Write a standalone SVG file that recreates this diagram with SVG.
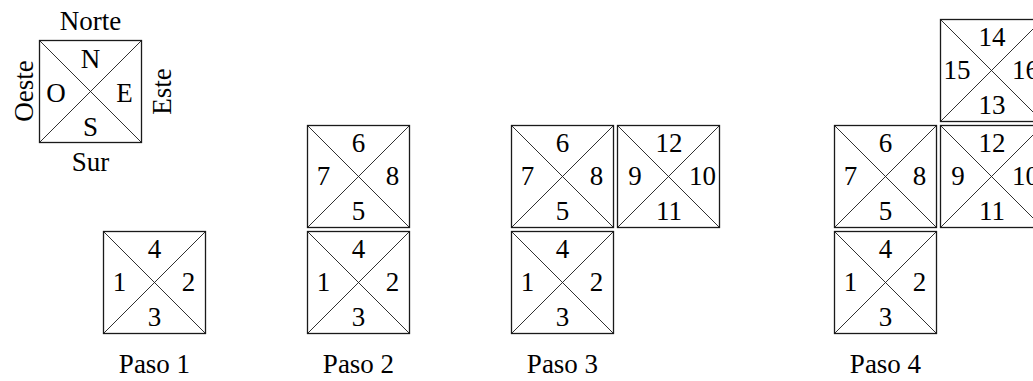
<svg xmlns="http://www.w3.org/2000/svg" xmlns:xlink="http://www.w3.org/1999/xlink" width="1033" height="381" viewBox="0 0 1033 381">
<style>
text{font-family:"Liberation Serif","Times New Roman",serif;font-size:27px;fill:#000;text-anchor:middle}
.frame{fill:none;stroke:#1a1a1a;stroke-width:1.3}
.diag{stroke:#1a1a1a;stroke-width:0.9}
</style>
<defs>
<g id="sq">
<rect class="frame" x="0" y="0" width="102" height="102"/>
<line class="diag" x1="0" y1="0" x2="102" y2="102"/>
<line class="diag" x1="102" y1="0" x2="0" y2="102"/>
</g>
</defs>
<rect width="1033" height="381" fill="#fff"/>

<g id="compass" transform="translate(39.5,40.5)">
<use xlink:href="#sq"/>
<text x="51" y="27.5">N</text>
<text x="16.5" y="61">O</text>
<text x="85" y="61">E</text>
<text x="51" y="95.5">S</text>
<text x="51" y="-10.5">Norte</text>
<text x="51" y="130.5">Sur</text>
<text transform="translate(-6.5,50.5) rotate(-90)">Oeste</text>
<text transform="translate(131.5,51) rotate(-90)">Este</text>
</g>

<g id="paso1">
<g id="p1-sq1" transform="translate(103.5,231.5)">
<use xlink:href="#sq"/>
<text x="51" y="26">4</text><text x="16" y="59">1</text><text x="85" y="59">2</text><text x="51" y="94">3</text>
</g>
<text x="154.5" y="373">Paso 1</text>
</g>

<g id="paso2">
<g id="p2-sq1" transform="translate(307.5,231.5)">
<use xlink:href="#sq"/>
<text x="51" y="26">4</text><text x="16" y="59">1</text><text x="85" y="59">2</text><text x="51" y="94">3</text>
</g>
<g id="p2-sq2" transform="translate(307.5,125.5)">
<use xlink:href="#sq"/>
<text x="51" y="26">6</text><text x="16" y="59">7</text><text x="85" y="59">8</text><text x="51" y="94">5</text>
</g>
<text x="358.5" y="373">Paso 2</text>
</g>

<g id="paso3">
<g id="p3-sq1" transform="translate(511.5,231.5)">
<use xlink:href="#sq"/>
<text x="51" y="26">4</text><text x="16" y="59">1</text><text x="85" y="59">2</text><text x="51" y="94">3</text>
</g>
<g id="p3-sq2" transform="translate(511.5,125.5)">
<use xlink:href="#sq"/>
<text x="51" y="26">6</text><text x="16" y="59">7</text><text x="85" y="59">8</text><text x="51" y="94">5</text>
</g>
<g id="p3-sq3" transform="translate(617.5,125.5)">
<use xlink:href="#sq"/>
<text x="51.5" y="26">12</text><text x="17.5" y="59">9</text><text x="85" y="59">10</text><text x="51.5" y="94">11</text>
</g>
<text x="562.5" y="373">Paso 3</text>
</g>

<g id="paso4">
<g id="p4-sq1" transform="translate(834.5,231.5)">
<use xlink:href="#sq"/>
<text x="51" y="26">4</text><text x="16" y="59">1</text><text x="85" y="59">2</text><text x="51" y="94">3</text>
</g>
<g id="p4-sq2" transform="translate(834.5,125.5)">
<use xlink:href="#sq"/>
<text x="51" y="26">6</text><text x="16" y="59">7</text><text x="85" y="59">8</text><text x="51" y="94">5</text>
</g>
<g id="p4-sq3" transform="translate(940.5,125.5)">
<use xlink:href="#sq"/>
<text x="51.5" y="26">12</text><text x="17.5" y="59">9</text><text x="85" y="59">10</text><text x="51.5" y="94">11</text>
</g>
<g id="p4-sq4" transform="translate(940.5,19.5)">
<use xlink:href="#sq"/>
<text x="51.5" y="26">14</text><text x="16.5" y="59">15</text><text x="85" y="59">16</text><text x="51.5" y="94">13</text>
</g>
<text x="885.5" y="373">Paso 4</text>
</g>
</svg>
